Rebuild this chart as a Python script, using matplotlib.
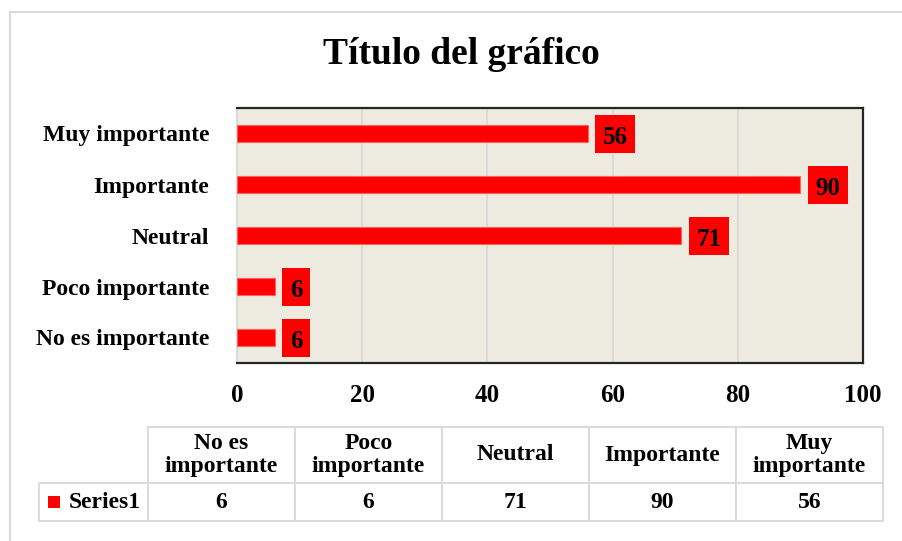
import matplotlib
matplotlib.use('Agg')
import matplotlib.pyplot as plt
import matplotlib.patches as mpatches
from matplotlib.path import Path

######data#############################################################

categories = ['No es importante', 'Poco importante', 'Neutral', 'Importante', 'Muy importante']
values = [6, 6, 71, 90, 56]
table_headers = ['No es\nimportante', 'Poco\nimportante', 'Neutral', 'Importante', 'Muy\nimportante']
series_name = 'Series1'
xticks = [0, 20, 40, 60, 80, 100]

######style############################################################

plt.rcParams['font.family'] = ['Liberation Serif', 'DejaVu Serif']
plt.rcParams['font.weight'] = 'bold'
W, H = 902, 541
fig = plt.figure(figsize=(W / 100, H / 100), dpi=100)

# outer chart border (goes past right/bottom edge of the picture)
fig.patches.append(mpatches.Rectangle((10 / W, -0.1), 1.2, 1 - 12 / H + 0.1,
                                      transform=fig.transFigure, fill=False,
                                      edgecolor='#d9d9d9', lw=1.5))

fig.text(461 / W, 1 - 55 / H, 'Título del gráfico', ha='center', va='center',
         fontsize=27, fontweight='bold')


# box for the data labels: more room on top than below, so digits look centred
def label_box(x0, y0, width, height, mutation_size):
    p = 0.3 * mutation_size
    d = 0.15 * mutation_size
    x1, y1 = x0 + width + p, y0 + height + p + d
    x0, y0 = x0 - p, y0 - p + d
    return Path([(x0, y0), (x1, y0), (x1, y1), (x0, y1), (x0, y0)], closed=True)


######bars#############################################################

ax = fig.add_axes([237 / W, 1 - 363 / H, (863 - 237) / W, (363 - 108) / H])
ax.set_facecolor('#edeae0')
ypos = list(range(len(categories)))
ax.barh(ypos, values, height=0.35, color='#ff0000', edgecolor='#ff6060', lw=0.8, zorder=3)

for y, v in zip(ypos, values):
    ax.annotate(str(v), (v, y), xytext=(11, -2.7), textcoords='offset points',
                ha='left', va='center', fontsize=18, fontweight='bold', color='black',
                bbox=dict(boxstyle=label_box, fc='#ff0000', ec='none'), zorder=4)

ax.set_xlim(0, 100)
ax.set_ylim(-0.5, len(categories) - 0.5)
ax.set_xticks(xticks)
ax.set_yticks(ypos)
ax.set_yticklabels(categories)
ax.xaxis.grid(True, color='#d9d9d9', lw=1.3, zorder=0)
ax.tick_params(axis='both', length=0, labelsize=17)
ax.tick_params(axis='x', pad=15, labelsize=18)
ax.tick_params(axis='y', pad=20)
for s in ['top', 'right', 'bottom']:
    ax.spines[s].set_color('#262626')
    ax.spines[s].set_linewidth(1.6)
ax.spines['left'].set_color('#d9d9d9')
ax.spines['left'].set_linewidth(1.3)

######data table#######################################################

tax = fig.add_axes([39 / W, 1 - 521 / H, (883 - 39) / W, (521 - 427) / H])
tax.axis('off')
tbl = tax.table(cellText=[[series_name] + [str(v) for v in values]],
                colLabels=[''] + table_headers, cellLoc='center',
                bbox=[0, 0, 1, 1])
tbl.auto_set_font_size(False)
tbl.set_fontsize(17)
for (r, c), cell in tbl.get_celld().items():
    cell.set_edgecolor('#d9d9d9')
    cell.set_linewidth(1.3)
    cell.get_text().set_fontweight('bold')
    cell.get_text().set_linespacing(1.15)
    cell.set_width(109 if c == 0 else 147)
    cell.set_height(56 if r == 0 else 38)
    if c == 0:
        if r == 0:
            cell.visible_edges = ''
        else:
            cell.get_text().set_horizontalalignment('right')
            cell.PAD = 0.07

# legend key in front of the series name
fig.patches.append(mpatches.Rectangle((48 / W, 1 - 508 / H), 12 / W, 12 / H,
                                      transform=fig.transFigure, fc='#ff0000', ec='none'))

fig.savefig('out.png', dpi=100)
